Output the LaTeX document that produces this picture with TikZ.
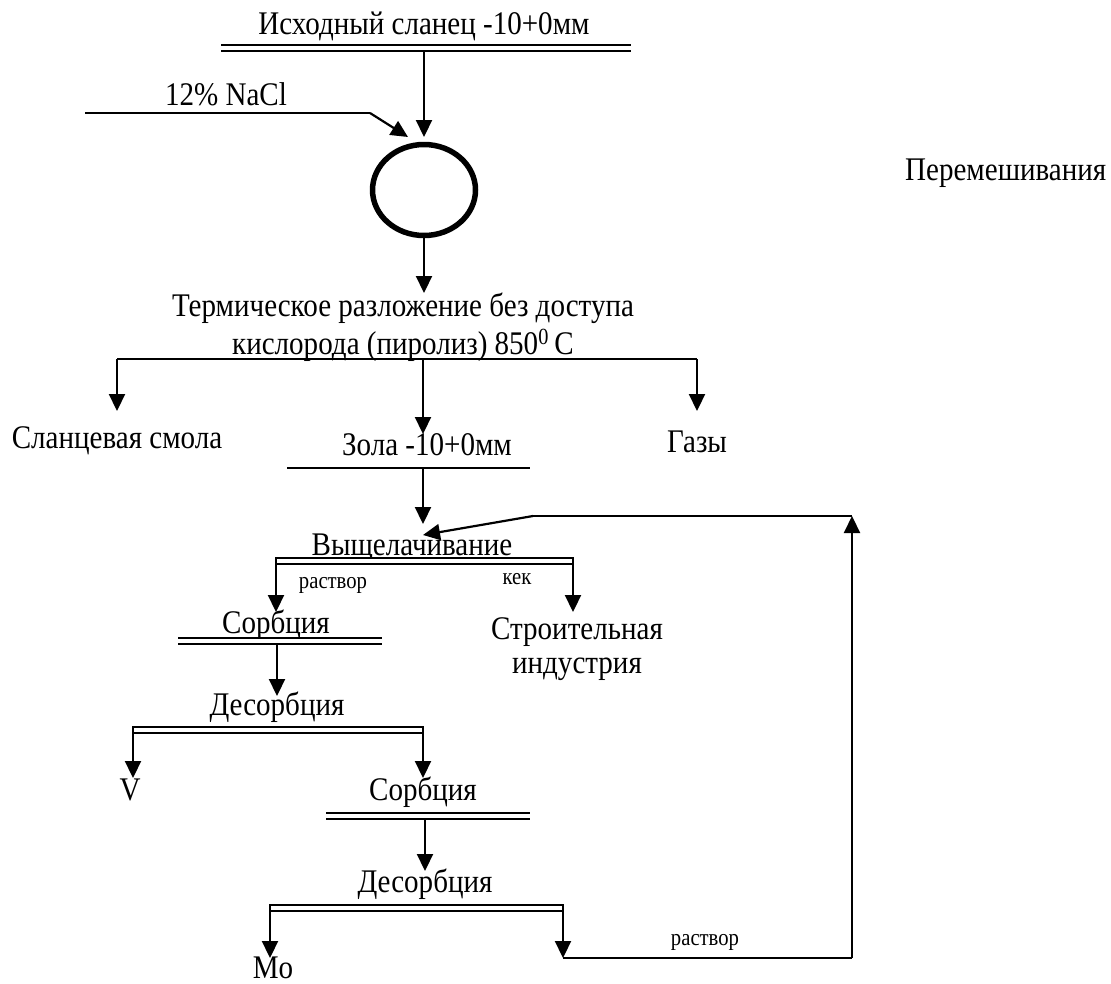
\documentclass[tikz,border=0pt]{standalone}
\usepackage{fontspec}
\setmainfont{Liberation Serif}[FakeStretch=0.88]
\usetikzlibrary{arrows.meta,shapes.geometric}
\tikzset{
  lbl/.style={font=\fontsize{33}{40}\selectfont, inner sep=0pt, anchor=base},
  smalllbl/.style={font=\fontsize{23.5}{28}\selectfont, inner sep=0pt, anchor=base},
  ln/.style={line width=2pt},
  arr/.style={line width=2.2pt, -{Triangle[length=17pt,width=16pt]}},
  dbar/.style={double, double distance=4pt, line width=2pt},
  ring/.style={line width=5.5pt},
}
\begin{document}
\begin{tikzpicture}[x=1pt,y=-1pt]
\useasboundingbox (0,0) rectangle (1111,983);

% ---- texts ----
\node[lbl] (src) at (424,34) {Исходный сланец -10+0мм};
\node[lbl] (nacl) at (226,105) {12\% NaCl};
\node[lbl, anchor=base west] (mix) at (905,180) {Перемешивания};
\node[lbl] (pyr1) at (403,316) {Термическое разложение без доступа};
\node[lbl] (pyr2) at (403,354) {кислорода (пиролиз) 850\textsuperscript{0}\,C};
\node[lbl] (tar) at (117,448) {Сланцевая смола};
\node[lbl] (ash) at (427,455) {Зола -10+0мм};
\node[lbl] (gas) at (697,452) {Газы};
\node[lbl] (leach) at (412,555) {Выщелачивание};
\node[smalllbl] (sol1) at (333,588) {раствор};
\node[smalllbl] (cake) at (517,584) {кек};
\node[lbl] (sorb1) at (276,633) {Сорбция};
\node[lbl] (build1) at (577,639) {Строительная};
\node[lbl] (build2) at (577,673) {индустрия};
\node[lbl] (desorb1) at (277,715) {Десорбция};
\node[lbl] (V) at (130,800) {V};
\node[lbl] (sorb2) at (423,800) {Сорбция};
\node[lbl] (desorb2) at (425,892) {Десорбция};
\node[lbl] (Mo) at (273,978) {Mo};
\node[smalllbl] (sol2) at (705,945) {раствор};

% ---- mixer ----
\node[ring, draw, ellipse, minimum width=103pt, minimum height=91pt, inner sep=0pt] (mixer) at (424,190) {};

% ---- bars ----
\coordinate (b0l) at (221,48);  \coordinate (b0r) at (631,48);
\coordinate (n0l) at (85,113);  \coordinate (n0r) at (370,113);
\coordinate (pl) at (117,359);  \coordinate (pr) at (697,359); \coordinate (pc) at (423,359);
\coordinate (zl) at (287,468);  \coordinate (zr) at (530,468);
\coordinate (b1l) at (276,561); \coordinate (b1r) at (573,561);
\coordinate (b2l) at (178,641); \coordinate (b2r) at (382,641);
\coordinate (b3l) at (133,730); \coordinate (b3r) at (423,730);
\coordinate (b4l) at (326,816); \coordinate (b4r) at (530,816);
\coordinate (b5l) at (270,908); \coordinate (b5r) at (563,908);

\draw[dbar] (b0l) -- (b0r);
\draw[ln] (n0l) -- (n0r);
\draw[ln] (pl) -- (pr);
\draw[ln] (zl) -- (zr);
\draw[dbar] (b1l) -- (b1r);
\draw[dbar] (b2l) -- (b2r);
\draw[dbar] (b3l) -- (b3r);
\draw[dbar] (b4l) -- (b4r);
\draw[dbar] (b5l) -- (b5r);

% ---- arrow end points ----
\coordinate (a0s) at (424,52);   \coordinate (a0e) at (424,137);
\coordinate (anE) at (408,137);
\coordinate (a1s) at (424,238);  \coordinate (a1e) at (424,293);
\coordinate (tarE) at (117,411); \coordinate (ashE) at (423,434); \coordinate (gasE) at (697,411);
\coordinate (a2s) at (423,469);  \coordinate (a2e) at (423,524);
\coordinate (l1s) at (276,557);  \coordinate (l1e) at (276,612);
\coordinate (l2s) at (573,557);  \coordinate (l2e) at (573,612);
\coordinate (s1s) at (277,645);  \coordinate (s1e) at (277,696);
\coordinate (d1s) at (133,726);  \coordinate (d1e) at (133,778);
\coordinate (d2s) at (423,726);  \coordinate (d2e) at (423,778);
\coordinate (s2s) at (425,820);  \coordinate (s2e) at (425,871);
\coordinate (e1s) at (270,904);  \coordinate (e1e) at (270,958);
\coordinate (e2s) at (563,904);  \coordinate (e2e) at (563,958);
\coordinate (fb1) at (852,958);  \coordinate (fb2) at (852,516);
\coordinate (fb3) at (533,516);  \coordinate (fb4) at (423,535);

% ---- connectors ----
\draw[arr] (a0s) -- (a0e);
\draw[arr] (n0r) -- (anE);
\draw[arr] (a1s) -- (a1e);
\draw[arr] (pl) -- (tarE);
\draw[arr] (pc) -- (ashE);
\draw[arr] (pr) -- (gasE);
\draw[arr] (a2s) -- (a2e);
\draw[arr] (l1s) -- (l1e);
\draw[arr] (l2s) -- (l2e);
\draw[arr] (s1s) -- (s1e);
\draw[arr] (d1s) -- (d1e);
\draw[arr] (d2s) -- (d2e);
\draw[arr] (s2s) -- (s2e);
\draw[arr] (e1s) -- (e1e);
\draw[arr] (e2s) -- (e2e);
\draw[ln] (e2e) -- (fb1);
\draw[arr] (fb1) -- (fb2);
\draw[ln] (fb2) -- (fb3);
\draw[arr] (fb3) -- (fb4);
\end{tikzpicture}
\end{document}
